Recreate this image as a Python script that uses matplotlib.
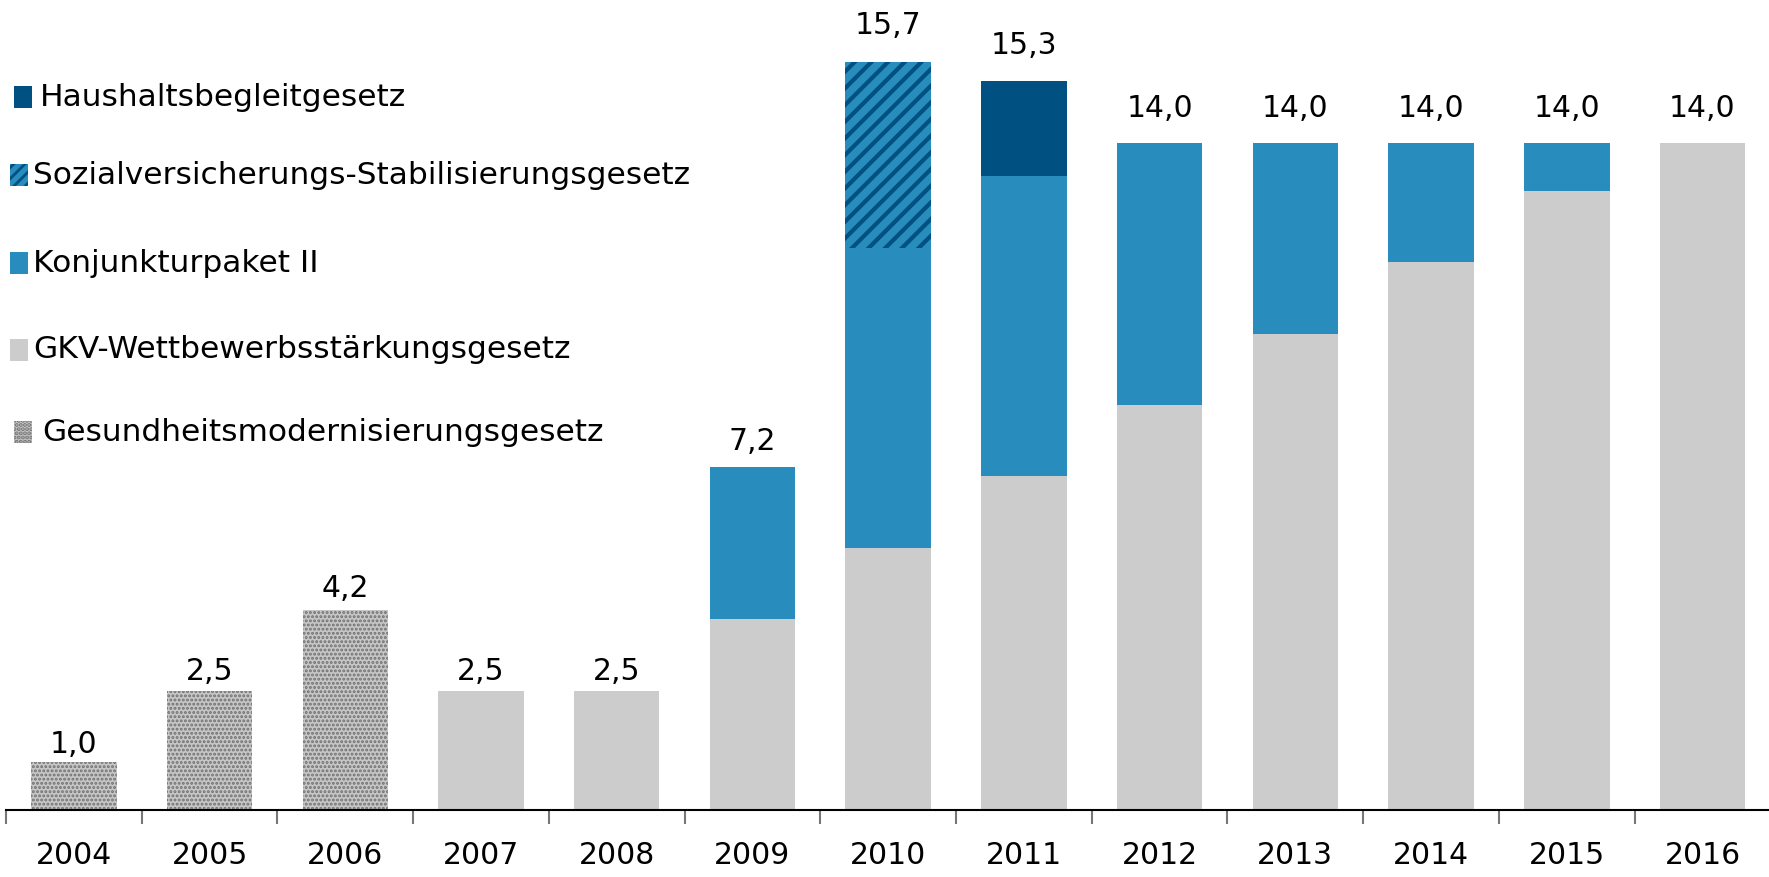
import matplotlib
matplotlib.use("Agg")
from matplotlib import pyplot as plt
from matplotlib.patches import Rectangle
import numpy as np

years = ['2004', '2005', '2006', '2007', '2008', '2009', '2010',
         '2011', '2012', '2013', '2014', '2015', '2016']
gmg = [1.0, 2.5, 4.2, 0, 0, 0, 0, 0, 0, 0, 0, 0, 0]          # Gesundheitsmodernisierungsgesetz
gkv = [0, 0, 0, 2.5, 2.5, 4.0, 5.5, 7.0, 8.5, 10.0, 11.5, 13.0, 14.0]
konj = [0, 0, 0, 0, 0, 3.2, 6.3, 6.3, 5.5, 4.0, 2.5, 1.0, 0]
svsg = [0, 0, 0, 0, 0, 0, 3.9, 0, 0, 0, 0, 0, 0]
hbg = [0, 0, 0, 0, 0, 0, 0, 2.0, 0, 0, 0, 0, 0]
totals = ['1,0', '2,5', '4,2', '2,5', '2,5', '7,2', '15,7',
          '15,3', '14,0', '14,0', '14,0', '14,0', '14,0']

legend_labels = ['Haushaltsbegleitgesetz',
                 'Sozialversicherungs-Stabilisierungsgesetz',
                 'Konjunkturpaket II',
                 'GKV-Wettbewerbsstärkungsgesetz',
                 'Gesundheitsmodernisierungsgesetz']

GRAY = '#cccccc'
DOTBG = '#c6c6c6'
DOT = '#707070'
BLUE = '#288dbd'
DARK = '#005082'
FONT = ['DejaVu Sans']
FS = 21.5

W, H = 1769, 877
fig = plt.figure(figsize=(W/100, H/100), dpi=100)
ax = fig.add_axes([6/W, 67/H, (W-6)/W, 810/H])

x = np.arange(len(years))
bw = 0.63
b = np.zeros(len(years))
plt.rcParams['hatch.linewidth'] = 1.4
ax.bar(x, gmg, bw, bottom=b, color=DOTBG, edgecolor=DOT, hatch='....', linewidth=0)
b += gmg
ax.bar(x, gkv, bw, bottom=b, color=GRAY, linewidth=0)
b += gkv
ax.bar(x, konj, bw, bottom=b, color=BLUE, linewidth=0)
b += konj
plt.rcParams['hatch.linewidth'] = 3.0
ax.bar(x, svsg, bw, bottom=b, color=BLUE, edgecolor=DARK, hatch='//', linewidth=0)
b += svsg
ax.bar(x, hbg, bw, bottom=b, color=DARK, linewidth=0)
b += hbg

for xi, top, lab in zip(x, b, totals):
    ax.text(xi, top * 1.026 + 0.35, lab, ha='center', va='center',
            fontsize=FS, family=FONT)

ax.set_xlim(-0.5, 12.49)
ax.set_ylim(0, 17.0)
for s in ['top', 'right', 'left']:
    ax.spines[s].set_visible(False)
ax.spines['bottom'].set_linewidth(1.5)
ax.set_yticks([])
ax.set_xticks(x)
ax.set_xticklabels(years, fontsize=FS, family=FONT)
ax.tick_params(axis='x', which='major', length=0, pad=22)
ax.set_xticks(np.arange(-0.5, 12.5, 1.0), minor=True)
ax.tick_params(axis='x', which='minor', length=10, width=1.5, color='#777777')

# legend drawn by hand
leg_y = [97, 175, 263, 350, 432]
box_x = [14, 10, 10, 10, 14]
txt_x = [40, 33, 33, 33, 42]
plt.rcParams['hatch.linewidth'] = 2.0
styles = [dict(facecolor=DARK),
          dict(facecolor=BLUE, edgecolor=DARK, hatch='///'),
          dict(facecolor=BLUE),
          dict(facecolor=GRAY),
          dict(facecolor=DOTBG, edgecolor=DOT, hatch='....')]
for yy, bx, tx, lab, st in zip(leg_y, box_x, txt_x, legend_labels, styles):
    fig.patches.append(Rectangle((bx/W, 1 - (yy+11)/H), 18/W, 22/H,
                                 transform=fig.transFigure, linewidth=0, **st))
    fig.text(tx/W, 1 - yy/H, lab, fontsize=22.5, family=FONT, va='center', ha='left')

fig.savefig('out.png', dpi=100)
